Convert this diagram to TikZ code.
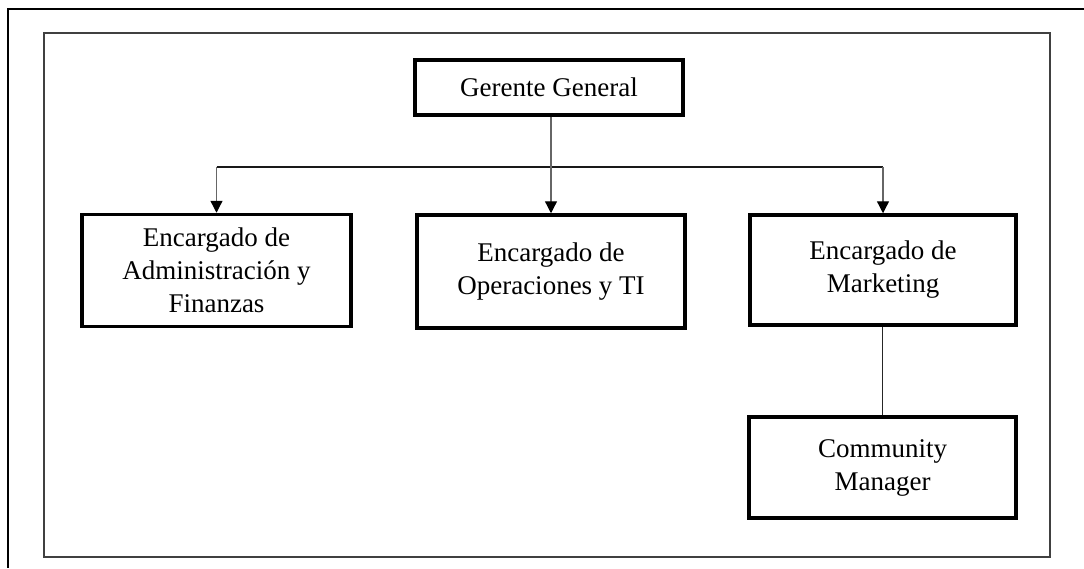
\documentclass[tikz,border=0pt]{standalone}
\usepackage{fontspec}
\setmainfont{Liberation Serif}
\usetikzlibrary{arrows.meta}
\begin{document}
\begin{tikzpicture}[x=1pt,y=-1pt,
  orgbox/.style={draw=black, line width=3.5pt, fill=white, align=center,
    inner sep=0pt, font=\fontsize{27}{33}\selectfont},
  bus/.style={draw=black!90, line width=1.7pt},
  drop/.style={draw=black!60, line width=1.3pt,
    -{Triangle[length=12pt,width=12pt,fill=black,color=black]}},
  link/.style={draw=black!85, line width=1.5pt}]
\useasboundingbox (0,0) rectangle (1084,568);
% outer page border
\draw[line width=1.5pt] (1084,9) -- (8,9) -- (8,568);
% inner frame
\draw[line width=2pt, draw=black!75] (44,33) rectangle (1050,557);
% nodes
\node[orgbox, minimum width=268pt, minimum height=55pt] (gg) at (549,87.5) {Gerente General};
\node[orgbox, minimum width=269pt, minimum height=112pt] (adm) at (216.5,270.5) {Encargado de\\Administración y\\Finanzas};
\node[orgbox, minimum width=268pt, minimum height=113pt] (ops) at (551,271.5) {Encargado de\\Operaciones y TI};
\node[orgbox, minimum width=266pt, minimum height=110pt] (mkt) at (883,270) {Encargado de\\Marketing};
\node[orgbox, minimum width=267pt, minimum height=101pt] (com) at (882.5,467.5) {Community\\Manager};
% bus coordinates
\coordinate (busL) at (216.5,167);
\coordinate (busR) at (883,167);
% connectors
\draw[bus] (busL) -- (busR);
\draw[drop] (gg.south -| ops.north) -- (ops.north);
\draw[drop] (busL) -- (adm.north);
\draw[drop] (busR) -- (mkt.north);
\draw[link] (mkt.south -| com.north) -- (com.north);
\end{tikzpicture}
\end{document}
